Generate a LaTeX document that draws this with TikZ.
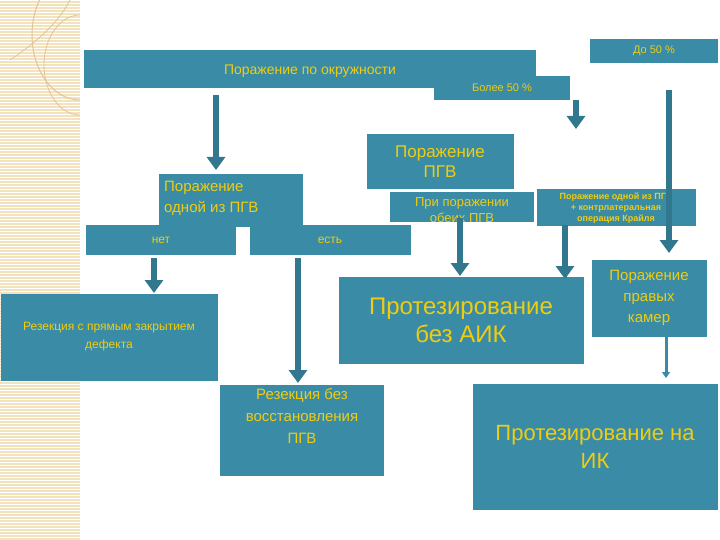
\documentclass[tikz,border=0pt]{standalone}
\usepackage{fontspec}
\setmainfont{Liberation Sans}
\usetikzlibrary{arrows.meta}
\definecolor{teal1}{HTML}{3A8CA6}
\definecolor{yel}{HTML}{F0CC10}
\definecolor{beige}{HTML}{F2E2BE}
\begin{document}
\begin{tikzpicture}[x=1pt,y=-1pt,
 box/.style={fill=teal1,draw=none,inner sep=0pt,text=yel,align=center},
 txt/.style={text=yel,align=center,inner sep=0pt},
 arr/.style={draw=teal1!85!black,fill=teal1,line width=6pt,-{Triangle[width=18pt,length=13pt]}}]
\useasboundingbox (0,0) rectangle (720,540);
\fill[white] (0,0) rectangle (720,540);
% left strip
\fill[beige] (0,0) rectangle (80,540);
\foreach \y in {0,3,...,540} \draw[white,line width=0.6pt] (0,\y) -- (80,\y);
\draw[beige!70!brown,line width=1pt] (80,100) arc (90:270:48 and 65);
\draw[beige!70!brown,line width=0.8pt] (80,115) arc (90:270:36 and 50);
\draw[beige!70!brown,line width=0.8pt] (10,60) .. controls (40,40) and (60,20) .. (70,0);
% boxes
\node[box,minimum width=452,minimum height=38,font=\fontsize{14}{16}\selectfont] (main) at (310,69) {};
\node[txt,font=\fontsize{14}{16}\selectfont] (maint) at (310,71) {Поражение по окружности};
\node[box,minimum width=128,minimum height=24,font=\fontsize{11}{13}\selectfont] (do50) at (654,51) {До 50 \%};
\node[box,minimum width=136,minimum height=24,font=\fontsize{11}{13}\selectfont] (bol50) at (502,88) {Более 50 \%};
\node[box,minimum width=147,minimum height=55,font=\fontsize{17}{20}\selectfont] (pgv) at (440,162) {Поражение\\ПГВ};
\node[box,minimum width=144,minimum height=30] (both) at (462,207) {};
\node[txt,font=\fontsize{13}{16}\selectfont] (botht) at (462,210) {При поражении\\обеих ПГВ};
\node[box,minimum width=159,minimum height=37,font=\bfseries\fontsize{9}{11}\selectfont] (kr) at (616,208) {Поражение одной из ПГВ\\+ контрлатеральная\\операция Крайля};
\node[box,minimum width=144,minimum height=53] (one) at (231,201) {};
\node[txt,align=left,anchor=north west,font=\fontsize{15}{21}\selectfont] (onet) at (164,181) {Поражение\\одной из ПГВ};
\node[box,minimum width=150,minimum height=29,font=\fontsize{12}{14}\selectfont] (net) at (161,240) {нет};
\node[box,minimum width=161,minimum height=29,font=\fontsize{12}{14}\selectfont] (est) at (330,240) {есть};
\node[box,minimum width=217,minimum height=87,font=\fontsize{12}{18}\selectfont] (rez1) at (109,337) {Резекция с прямым закрытием\\дефекта};
\node[box,minimum width=245,minimum height=87,font=\fontsize{24}{28}\selectfont] (prot1) at (461,320) {Протезирование\\без АИК};
\node[box,minimum width=115,minimum height=77,font=\fontsize{15}{21}\selectfont] (prav) at (649,298) {Поражение\\правых\\камер};
\node[box,minimum width=164,minimum height=91] (rez2) at (302,430) {};
\node[txt,font=\fontsize{15}{22}\selectfont] (rez2t) at (302,416) {Резекция без\\восстановления\\ПГВ};
\node[box,minimum width=245,minimum height=126,font=\fontsize{22}{28}\selectfont] (prot2) at (595,447) {Протезирование на\\ИК};
% arrows
\coordinate (a1) at (216,95); \coordinate (a1e) at (216,170);
\coordinate (a2) at (576,100); \coordinate (a2e) at (576,129);
\coordinate (a3) at (669,90); \coordinate (a3e) at (669,253);
\coordinate (a4) at (154,258); \coordinate (a4e) at (154,293);
\coordinate (a5) at (298,258); \coordinate (a5e) at (298,383);
\coordinate (a6) at (460,218); \coordinate (a6e) at (460,276);
\coordinate (a7) at (565,225); \coordinate (a7e) at (565,279);
\draw[arr] (a1) -- (a1e);
\draw[arr] (a2) -- (a2e);
\draw[arr] (a3) -- (a3e);
\draw[arr] (a4) -- (a4e);
\draw[arr] (a5) -- (a5e);
\draw[arr] (a6) -- (a6e);
\draw[arr] (a7) -- (a7e);
\draw[draw=teal1,line width=3pt,-{Triangle[width=8pt,length=6pt]}] (prav.south -| 666,0) -- (666,378);
\end{tikzpicture}
\end{document}
